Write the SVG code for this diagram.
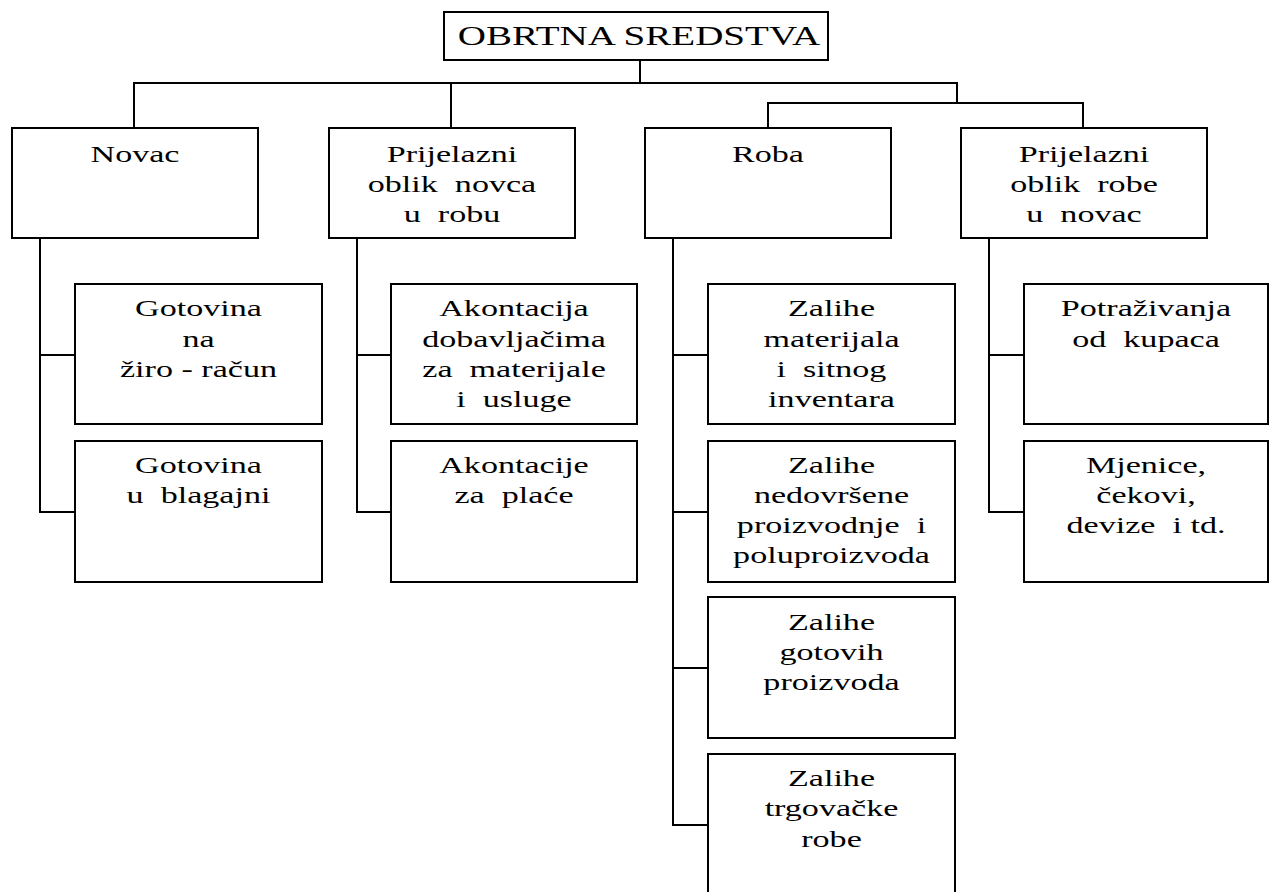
<svg xmlns="http://www.w3.org/2000/svg" width="1270" height="892" viewBox="0 0 1270 892" font-family="'Liberation Serif', 'Times New Roman', serif">
<style>
rect{fill:#fff;stroke:#000;stroke-width:2}
.c path{fill:none;stroke:#000;stroke-width:2}
text{font-family:'Liberation Serif','Times New Roman',serif;font-size:24px;fill:#000;text-anchor:middle}
.t{font-size:27.5px}
</style>
<rect x="0" y="0" width="1270" height="892" style="stroke:none"/>
<g class="c" id="connectors">
<path d="M640 60V83M134 128V83H957V103M451 83V128M768 128V103H1083V128"/>
<path d="M40 238V512H75M40 355H75"/>
<path d="M357 238V512H391M357 355H391"/>
<path d="M673 238V825H708M673 355H708M673 512H708M673 668H708"/>
<path d="M989 238V512H1024M989 355H1024"/>
</g>
<g id="n-root"><rect x="444" y="12" width="384" height="48"/><text class="t" transform="translate(639 45) scale(1.42 1)">OBRTNA SREDSTVA</text></g>
<g id="n-novac"><rect x="12" y="128" width="246" height="110"/><text transform="translate(135 162) scale(1.42 1)">Novac</text></g>
<g id="n-pnr"><rect x="329" y="128" width="246" height="110"/><g transform="translate(452 0) scale(1.42 1)"><text y="162">Prijelazni</text><text y="192">oblik&#160; novca</text><text y="222">u&#160; robu</text></g></g>
<g id="n-roba"><rect x="645" y="128" width="246" height="110"/><text transform="translate(768 162) scale(1.42 1)">Roba</text></g>
<g id="n-prn"><rect x="961" y="128" width="246" height="110"/><g transform="translate(1084 0) scale(1.42 1)"><text y="162">Prijelazni</text><text y="192">oblik&#160; robe</text><text y="222">u&#160; novac</text></g></g>
<g id="n-gz"><rect x="75" y="284" width="247" height="140"/><g transform="translate(198.5 0) scale(1.42 1)"><text y="316">Gotovina</text><text y="347">na</text><text y="377">žiro - račun</text></g></g>
<g id="n-gb"><rect x="75" y="441" width="247" height="141"/><g transform="translate(198.5 0) scale(1.42 1)"><text y="473">Gotovina</text><text y="503">u&#160; blagajni</text></g></g>
<g id="n-ad"><rect x="391" y="284" width="246" height="140"/><g transform="translate(514 0) scale(1.42 1)"><text y="316">Akontacija</text><text y="347">dobavljačima</text><text y="377">za&#160; materijale</text><text y="407">i&#160; usluge</text></g></g>
<g id="n-ap"><rect x="391" y="441" width="246" height="141"/><g transform="translate(514 0) scale(1.42 1)"><text y="473">Akontacije</text><text y="503">za&#160; plaće</text></g></g>
<g id="n-zm"><rect x="708" y="284" width="247" height="140"/><g transform="translate(831.5 0) scale(1.42 1)"><text y="316">Zalihe</text><text y="347">materijala</text><text y="377">i&#160; sitnog</text><text y="407">inventara</text></g></g>
<g id="n-zn"><rect x="708" y="441" width="247" height="141"/><g transform="translate(831.5 0) scale(1.42 1)"><text y="473">Zalihe</text><text y="503">nedovršene</text><text y="533">proizvodnje&#160; i</text><text y="563">poluproizvoda</text></g></g>
<g id="n-zg"><rect x="708" y="597" width="247" height="141"/><g transform="translate(831.5 0) scale(1.42 1)"><text y="630">Zalihe</text><text y="660">gotovih</text><text y="690">proizvoda</text></g></g>
<g id="n-zt"><rect x="708" y="754" width="247" height="150"/><g transform="translate(831.5 0) scale(1.42 1)"><text y="786">Zalihe</text><text y="816">trgovačke</text><text y="847">robe</text></g></g>
<g id="n-pk"><rect x="1024" y="284" width="244" height="140"/><g transform="translate(1146 0) scale(1.42 1)"><text y="316">Potraživanja</text><text y="347">od&#160; kupaca</text></g></g>
<g id="n-mc"><rect x="1024" y="441" width="244" height="141"/><g transform="translate(1146 0) scale(1.42 1)"><text y="473">Mjenice,</text><text y="503">čekovi,</text><text y="533">devize&#160; i td.</text></g></g>
</svg>
